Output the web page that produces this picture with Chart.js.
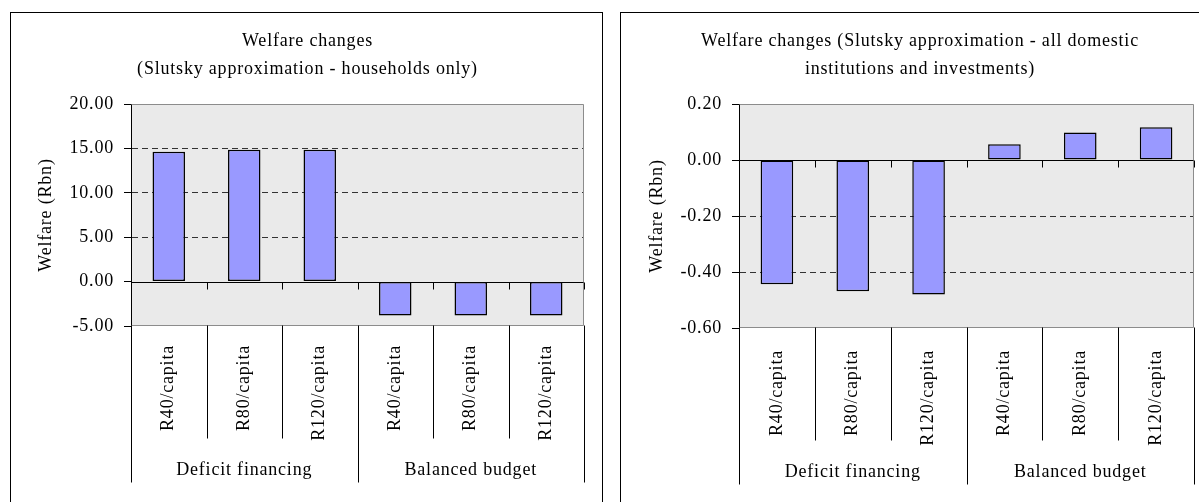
<!DOCTYPE html>
<html>
<head>
<meta charset="utf-8">
<script src="https://cdn.jsdelivr.net/npm/chart.js@4.4.0/dist/chart.umd.min.js"></script>
<style>
  html, body { margin: 0; padding: 0; background: #fff; overflow: hidden; width: 1199px; height: 502px; }
  .box { position: absolute; top: 12px; height: 520px; border: 1px solid #000; box-sizing: border-box; background: #fff; }
  #leftBox { left: 10px; width: 593px; }
  #rightBox { left: 620px; width: 600px; }
  .box canvas { display: block; }
</style>
</head>
<body>
<div class="box" id="leftBox"><canvas id="leftChart" width="591" height="518"></canvas></div>
<div class="box" id="rightBox"><canvas id="rightChart" width="598" height="518"></canvas></div>
<script>
// ---- data
let categories = ['R40/capita', 'R80/capita', 'R120/capita', 'R40/capita', 'R80/capita', 'R120/capita'];
let groups = ['Deficit financing', 'Balanced budget'];
let householdsOnly = [14.62, 14.85, 14.85, -3.83, -3.83, -3.83];
let allInstitutions = [-0.444, -0.469, -0.480, 0.056, 0.098, 0.117];
let leftAxis = [-5, 20, 5];      // min, max, step
let rightAxis = [-0.6, 0.2, 0.2];

const serif = "'Liberation Serif', 'Times New Roman', serif";
const spacing = '0.8px'; // the original text is set a little wider than Times

// ---- excel style extras: grey plot area, solid zero line, category separators, group labels
const excelLook = {
  id: 'excelLook',
  beforeUpdate(chart) {
    chart.ctx.letterSpacing = spacing;
  },
  beforeDraw(chart) {
    const a = chart.chartArea, ctx = chart.ctx;
    ctx.letterSpacing = spacing;
    ctx.save();
    ctx.fillStyle = '#EAEAEA';
    ctx.fillRect(a.left, a.top, a.right - a.left, a.bottom - a.top);
    ctx.restore();
  },
  afterDatasetsDraw(chart) {
    const a = chart.chartArea, ctx = chart.ctx;
    const xs = chart.scales.x, ys = chart.scales.y;
    const top = Math.round(a.top) + 0.5, bottom = Math.round(a.bottom) - 0.5;
    const left = Math.round(a.left) + 0.5, right = Math.round(a.right) - 0.5;
    ctx.save();
    ctx.lineWidth = 1;
    // grey frame
    ctx.strokeStyle = '#8C8C8C';
    ctx.beginPath();
    ctx.moveTo(left, top); ctx.lineTo(right, top); ctx.lineTo(right, bottom); ctx.lineTo(left, bottom);
    ctx.stroke();
    // zero line with small ticks at the category borders
    const y0 = Math.round(ys.getPixelForValue(0)) + 0.5;
    ctx.strokeStyle = '#000';
    ctx.beginPath();
    ctx.moveTo(left, y0); ctx.lineTo(right, y0);
    ctx.stroke();
    const n = categories.length, per = n / groups.length;
    for (let i = 0; i <= n; i++) {
      const x = Math.round(xs.getPixelForValue(i - 0.5)) + 0.5;
      ctx.beginPath();
      ctx.moveTo(x, y0); ctx.lineTo(x, y0 + 7);
      ctx.stroke();
      // separators under the plot
      const len = i % per === 0 ? 157 : 113;
      ctx.beginPath();
      ctx.moveTo(x, bottom); ctx.lineTo(x, bottom + len);
      ctx.stroke();
    }
    // group labels
    ctx.fillStyle = '#000';
    ctx.font = '18px ' + serif;
    ctx.textAlign = 'center';
    ctx.textBaseline = 'middle';
    groups.forEach((g, k) => {
      const cx = (xs.getPixelForValue(k * per) + xs.getPixelForValue(k * per + per - 1)) / 2;
      ctx.fillText(g, cx, xs.top + 144);
    });
    ctx.restore();
  }
};

function buildChart(id, values, axis, cfg) {
  const [mn, mx, step] = axis;
  return new Chart(document.getElementById(id), {
    type: 'bar',
    data: {
      labels: categories,
      datasets: [{
        data: values,
        backgroundColor: '#9999FF',
        borderColor: '#000',
        borderWidth: 1.5,
        borderSkipped: false,
        barPercentage: 0.43,
        categoryPercentage: 1
      }]
    },
    options: {
      responsive: false,
      animation: false,
      layout: { padding: { left: cfg.padLeft, right: cfg.padRight, top: 0, bottom: 0 } },
      plugins: {
        legend: { display: false },
        tooltip: { enabled: false },
        title: {
          display: true,
          text: cfg.title,
          color: '#000',
          font: { family: serif, size: 18, weight: 'normal', lineHeight: 28 / 18 },
          padding: { top: 14, bottom: 21 }
        }
      },
      scales: {
        x: {
          grid: { display: false, drawTicks: false },
          border: { display: false },
          ticks: {
            minRotation: 90, maxRotation: 90, autoSkip: false,
            padding: cfg.labelGap,
            color: '#000',
            font: { family: serif, size: 18 }
          },
          afterFit: s => { s.height = cfg.xHeight; }
        },
        y: {
          min: mn, max: mx,
          ticks: {
            stepSize: step,
            padding: 10,
            color: '#000',
            font: { family: serif, size: 18 },
            callback: v => (Math.abs(v) < 1e-9 ? 0 : v).toFixed(2)
          },
          grid: {
            color: c => {
              const v = c.tick ? c.tick.value : 0;
              const eps = step / 1000;
              return (v > mn + eps && v < mx - eps && Math.abs(v) > eps) ? '#333' : 'rgba(0,0,0,0)';
            },
            tickColor: '#000',
            tickLength: 7,
            lineWidth: 1
          },
          border: { display: true, color: '#000', width: 1, dash: [6, 4] },
          title: {
            display: true,
            text: 'Welfare (Rbn)',
            color: '#000',
            font: { family: serif, size: 18 },
            padding: { top: cfg.yTitlePad, bottom: 0 }
          },
          afterFit: s => { s.width = cfg.yWidth; }
        }
      }
    },
    plugins: [excelLook]
  });
}

buildChart('leftChart', householdsOnly, leftAxis, {
  title: ['Welfare changes', '(Slutsky approximation - households only)'],
  padLeft: 20, padRight: 18, yWidth: 100, yTitlePad: 4, xHeight: 205, labelGap: 19
});

buildChart('rightChart', allInstitutions, rightAxis, {
  title: ['Welfare changes (Slutsky approximation - all domestic', 'institutions and investments)'],
  padLeft: 25, padRight: 25, yWidth: 93, yTitlePad: 0, xHeight: 203, labelGap: 22
});
</script>
</body>
</html>
